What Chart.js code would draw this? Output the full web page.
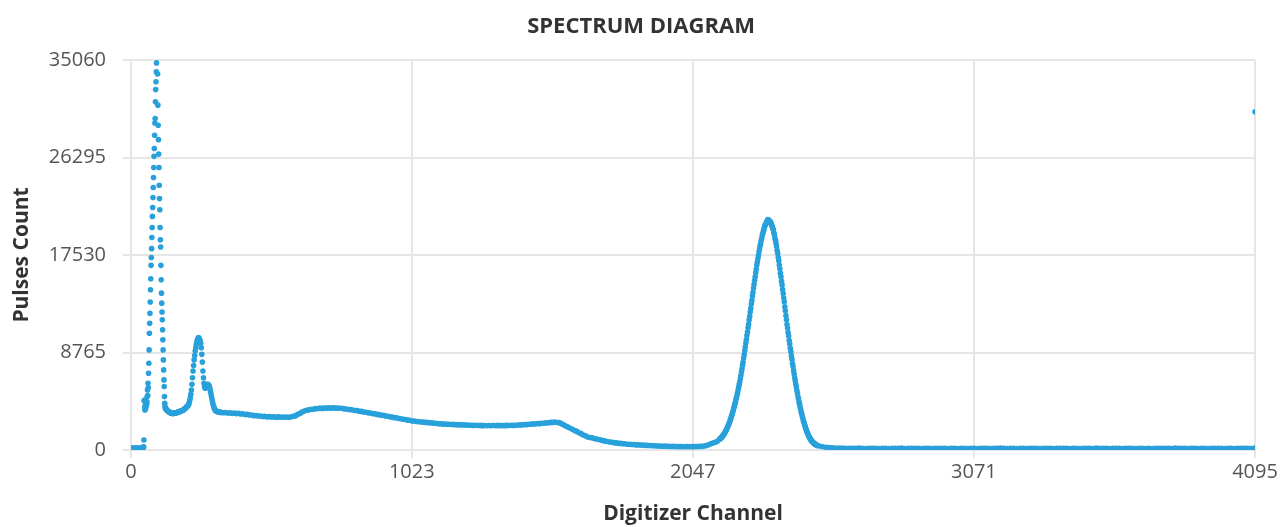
<!DOCTYPE html>
<html>
<head>
<meta charset="utf-8">
<title>Spectrum Diagram</title>
<script src="https://cdn.jsdelivr.net/npm/chart.js@4.4.1/dist/chart.umd.min.js"></script>
<style>
  html, body { margin: 0; padding: 0; background: #fff; }
  #wrap { width: 1282px; height: 527px; }
</style>
</head>
<body>
<div id="wrap"><canvas id="chartSpectrum"></canvas></div>
<script>
// Spectrum diagram - pulses per digitizer channel
// values

const xTicks = [0, 1023, 2047, 3071, 4095];
const yTicks = [0, 8765, 17530, 26295, 35060];

// channels 0..44, every 4th channel (flat start)
const startA = 0, stepA = 4;
const countsA = [140, 180, 160, 150, 190, 170, 150, 180, 160, 200, 170, 210];

// channels 45..127, every channel (first big peak, clipped at the top)
const startB = 45, stepB = 1;
const countsB = [
  240, 280, 900, 4400, 4500, 3800, 3600, 4000, 3700, 4200,
  3900, 4400, 4100, 4300, 4800, 5400, 4900, 6000, 5600, 6900,
  7800, 9000, 10500, 11400, 12300, 13300, 14400, 15400, 16600, 17300,
  18100, 19100, 20000, 21000, 21800, 22700, 23600, 24500, 25400, 26400,
  27100, 28300, 29400, 29800, 31300, 32400, 33100, 34000, 34800, 36500,
  38000, 36500, 33800, 31000, 29200, 27900, 26600, 25400, 23800, 22600,
  21600, 20000, 18900, 18250, 16600, 15300, 14100, 13200, 12400, 11700,
  10800, 9900, 9000, 8100, 7200, 6300, 5700, 4800, 4200, 3900,
  3800, 3750, 3700
];

// channels 128..326, every 2nd channel (second peak with shoulder)
const startC = 128, stepC = 2;
const countsC = [
  3650, 3600, 3550, 3500, 3450, 3450, 3400, 3380, 3350, 3300,
  3320, 3280, 3300, 3270, 3300, 3320, 3300, 3330, 3350, 3340,
  3380, 3400, 3420, 3400, 3450, 3470, 3480, 3500, 3520, 3550,
  3580, 3600, 3620, 3660, 3700, 3760, 3800, 3850, 3900, 3950,
  4000, 4100, 4250, 4450, 4700, 5000, 5400, 5900, 6500, 7100,
  7600, 8100, 8500, 8900, 9200, 9500, 9700, 9900, 10000, 10100,
  10050, 9900, 9800, 9600, 9200, 8600, 7900, 7100, 6500, 6000,
  5700, 5550, 5600, 5700, 5800, 5850, 5900, 5850, 5800, 5650,
  5450, 5200, 4950, 4700, 4450, 4200, 4000, 3850, 3700, 3600,
  3550, 3500, 3480, 3450, 3450, 3430, 3420, 3400, 3400, 3380
];

// channels 328..2136, every 8th channel (continuum)
const startD = 328, stepD = 8;
const countsD = [
  3400, 3350, 3370, 3320, 3340, 3290, 3320, 3270, 3290, 3240,
  3250, 3190, 3200, 3140, 3150, 3090, 3100, 3050, 3060, 3010,
  3020, 2980, 3000, 2970, 2990, 2950, 2980, 2950, 2970, 2940,
  2970, 2950, 2990, 3030, 3090, 3210, 3290, 3430, 3500, 3580,
  3610, 3670, 3670, 3720, 3710, 3760, 3740, 3780, 3760, 3790,
  3760, 3790, 3760, 3780, 3750, 3750, 3700, 3690, 3640, 3630,
  3600, 3550, 3540, 3490, 3470, 3420, 3400, 3340, 3330, 3270,
  3250, 3200, 3180, 3130, 3110, 3050, 3030, 2980, 2960, 2910,
  2890, 2830, 2810, 2760, 2740, 2690, 2670, 2610, 2600, 2560,
  2560, 2520, 2520, 2480, 2480, 2440, 2440, 2400, 2400, 2360,
  2360, 2330, 2340, 2310, 2320, 2290, 2300, 2270, 2280, 2260,
  2260, 2240, 2250, 2220, 2230, 2210, 2220, 2200, 2210, 2190,
  2200, 2180, 2200, 2180, 2200, 2180, 2210, 2190, 2200, 2190,
  2210, 2200, 2220, 2210, 2230, 2220, 2260, 2250, 2290, 2280,
  2310, 2310, 2350, 2340, 2380, 2370, 2410, 2410, 2440, 2440,
  2480, 2480, 2510, 2470, 2460, 2370, 2270, 2160, 2060, 1950,
  1870, 1750, 1670, 1550, 1470, 1350, 1270, 1170, 1130, 1090,
  1040, 990, 940, 890, 840, 800, 760, 720, 690, 660,
  640, 600, 600, 560, 560, 520, 520, 490, 490, 460,
  460, 440, 440, 420, 420, 400, 400, 380, 380, 360,
  360, 340, 350, 330, 340, 320, 330, 310, 320, 300,
  310, 290, 310, 290, 310, 300, 320, 310, 330, 330,
  360, 410, 470, 560, 630, 700, 790
];

// channels 2144..2500, every 2nd channel (main photo peak)
const startE = 2144, stepE = 2;
const countsE = [
  960, 980, 1050, 1070, 1160, 1200, 1290, 1330, 1420, 1480,
  1600, 1660, 1780, 1840, 1990, 2080, 2230, 2320, 2470, 2590,
  2770, 2890, 3070, 3190, 3400, 3550, 3760, 3910, 4120, 4300,
  4540, 4720, 4960, 5140, 5420, 5640, 5920, 6140, 6420, 6690,
  7020, 7290, 7620, 7880, 8260, 8570, 8940, 9250, 9620, 9930,
  10300, 10610, 10980, 11290, 11680, 12010, 12400, 12730, 13120, 13450,
  13840, 14170, 14560, 14890, 15260, 15570, 15940, 16250, 16620, 16890,
  17220, 17490, 17820, 18090, 18360, 18570, 18840, 19050, 19320, 19470,
  19680, 19830, 20040, 20190, 20320, 20390, 20520, 20590, 20710, 20660,
  20660, 20580, 20570, 20480, 20380, 20200, 20100, 19920, 19820, 19540,
  19340, 19060, 18860, 18580, 18300, 17940, 17660, 17300, 17020, 16620,
  16300, 15900, 15580, 15180, 14840, 14420, 14080, 13660, 13320, 12880,
  12520, 12080, 11720, 11280, 10960, 10560, 10240, 9840, 9520, 9140,
  8840, 8460, 8160, 7780, 7500, 7140, 6860, 6500, 6220, 5900,
  5660, 5340, 5100, 4780, 4580, 4300, 4100, 3820, 3620, 3380,
  3220, 2980, 2820, 2580, 2460, 2260, 2140, 1940, 1820, 1660,
  1580, 1420, 1340, 1180, 1140, 1020, 980, 860, 820, 740,
  720, 640, 620, 540, 540, 480, 480, 420, 410
];

// channels 2508..4092, every 12th channel (flat tail)
const startF = 2508, stepF = 12;
const countsF = [
  360, 290, 240, 210, 190, 180, 170, 165, 160, 150,
  158, 142, 165, 150, 137, 160, 148, 155, 141, 162,
  149, 136, 158, 152, 144, 166, 139, 151, 160, 145,
  153, 140, 161, 147, 135, 157, 150, 143, 164, 138,
  155, 146, 133, 159, 149, 141, 163, 152, 137, 156,
  144, 160, 139, 151, 147, 165, 142, 134, 158, 150,
  141, 157, 148, 136, 162, 145, 153, 139, 160, 147,
  152, 138, 164, 143, 155, 149, 135, 161, 146, 140,
  159, 144, 150, 137, 166, 142, 154, 148, 133, 157,
  146, 161, 139, 153, 145, 158, 136, 150, 163, 141,
  154, 137, 160, 149, 142, 156, 147, 139, 165, 151,
  143, 158, 135, 152, 161, 140, 149, 157, 138, 146,
  160, 145, 153, 139, 156, 148, 134, 162, 150, 143,
  155, 141, 150
];

// last channels (the final one is an overflow bin)
const endChannels = [4094, 4095];
const endCounts = [148, 30400];

const FONT = "'Open Sans', 'DejaVu Sans', sans-serif";
const DOT = "#28A1DB";

function buildPoints() {
  const pts = [];
  const add = (start, step, counts) => {
    counts.forEach((c, i) => pts.push({ x: start + i * step, y: c }));
  };
  add(startA, stepA, countsA);
  add(startB, stepB, countsB);
  add(startC, stepC, countsC);
  add(startD, stepD, countsD);
  add(startE, stepE, countsE);
  add(startF, stepF, countsF);
  endChannels.forEach((ch, i) => pts.push({ x: ch, y: endCounts[i] }));
  return pts;
}

function initChart() {
  const ctx = document.getElementById("chartSpectrum");
  if (!window.Chart) {
    console.warn("Chart.js not loaded");
    return;
  }

  const gridCol = "#e6e6e6";

  new Chart(ctx, {
    type: "scatter",
    data: {
      datasets: [{
        label: "Pulses Count",
        data: buildPoints(),
        backgroundColor: DOT,
        borderWidth: 0,
        pointRadius: 2.8,
        pointHoverRadius: 2.8
      }]
    },
    options: {
      responsive: true,
      maintainAspectRatio: false,
      animation: false,
      layout: { padding: 0 },
      plugins: {
        legend: { display: false },
        tooltip: { enabled: false },
        title: {
          display: true,
          text: "SPECTRUM DIAGRAM",
          color: "#333333",
          font: { family: FONT, size: 22, weight: "bold" },
          padding: { top: 14, bottom: 19.6 }
        }
      },
      scales: {
        x: {
          type: "linear",
          min: 0,
          max: 4095,
          afterBuildTicks: s => { s.ticks = xTicks.map(v => ({ value: v })); },
          // fixed axis height + right gap so the plot matches the picture
          afterFit: s => { s.height = 77; s.paddingRight = 27; },
          grid: { color: gridCol, lineWidth: 2, tickLength: 8 },
          border: { color: gridCol, width: 2 },
          ticks: {
            autoSkip: false,
            maxRotation: 0,
            padding: 2,
            color: "#555555",
            font: { family: FONT, size: 20 },
            callback: v => String(v)
          },
          title: {
            display: true,
            text: "Digitizer Channel",
            color: "#333333",
            font: { family: FONT, size: 21, weight: "bold" },
            padding: { top: 0, bottom: 0 }
          }
        },
        y: {
          type: "linear",
          min: 0,
          max: 35060,
          afterBuildTicks: s => { s.ticks = yTicks.map(v => ({ value: v })); },
          afterFit: s => { s.width = 131; },
          grid: { color: gridCol, lineWidth: 2, tickLength: 8 },
          border: { color: gridCol, width: 2 },
          ticks: {
            autoSkip: false,
            padding: 17,
            color: "#555555",
            font: { family: FONT, size: 20 },
            callback: v => String(v)
          },
          title: {
            display: true,
            text: "Pulses Count",
            color: "#333333",
            font: { family: FONT, size: 21, weight: "bold" },
            padding: { top: 9, bottom: 0 }
          }
        }
      }
    }
  });
}

initChart();
</script>
</body>
</html>
